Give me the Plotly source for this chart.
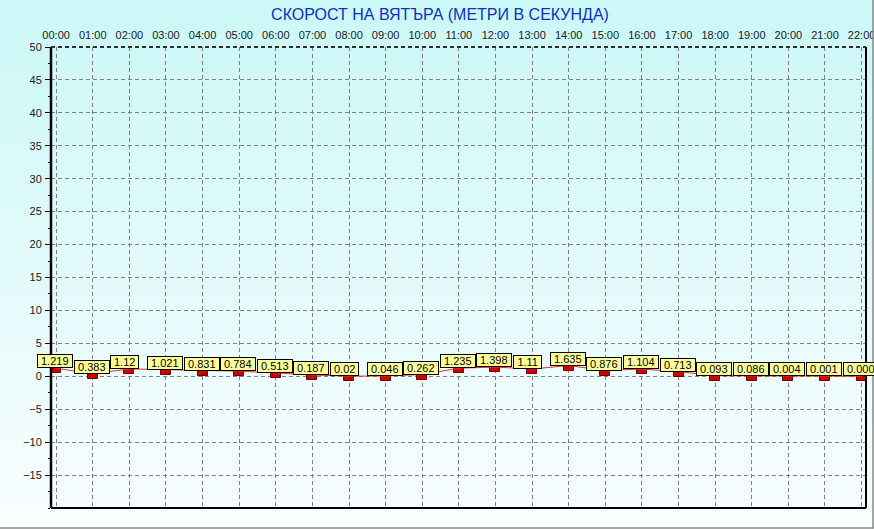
import plotly.graph_objects as go

# ---- data ----
hours = list(range(23))
hour_labels = [f"{h:02d}:00" for h in hours]
wind_speed = [1.219, 0.383, 1.12, 1.021, 0.831, 0.784, 0.513, 0.187, 0.02, 0.046,
              0.262, 1.235, 1.398, 1.11, 1.635, 0.876, 1.104, 0.713, 0.093, 0.086,
              0.004, 0.001, 0.000]
value_labels = ["1.219", "0.383", "1.12", "1.021", "0.831", "0.784", "0.513", "0.187",
                "0.02", "0.046", "0.262", "1.235", "1.398", "1.11", "1.635", "0.876",
                "1.104", "0.713", "0.093", "0.086", "0.004", "0.001", "0.000"]
y_ticks = [-15, -10, -5, 0, 5, 10, 15, 20, 25, 30, 35, 40, 45, 50]
title_text = "СКОРОСТ НА ВЯТЪРА (МЕТРИ В СЕКУНДА)"

FONT = "Arial, Liberation Sans, sans-serif"
W, H = 874, 529
ML, MR, MT, MB = 51, 8, 47, 21
PW, PH = W - ML - MR, H - MT - MB

Y_MIN, Y_MAX = -20, 50
X_MIN, X_MAX = -0.14, 22.12
unit_px = PH / (Y_MAX - Y_MIN)
hour_px = PW / (X_MAX - X_MIN)
mark_h = 5 / unit_px
mark_w = 10 / hour_px

fig = go.Figure()

# thin connecting line
fig.add_trace(go.Scatter(x=hours, y=wind_speed, mode="lines",
                         line=dict(color="#e03030", width=1),
                         hoverinfo="skip", showlegend=False))
# small rectangular markers hanging below each value
fig.add_trace(go.Bar(x=hours, y=[mark_h] * len(wind_speed),
                     base=[v - mark_h for v in wind_speed],
                     width=mark_w,
                     marker=dict(color="#cc0000", line=dict(color="#700000", width=1)),
                     hoverinfo="skip", showlegend=False))

# value labels
for h, v, t in zip(hours, wind_speed, value_labels):
    fig.add_annotation(x=h, y=v, text=t, showarrow=False,
                       xanchor="left", yanchor="bottom", xshift=-19, align="center",
                       font=dict(family=FONT, size=11, color="black"),
                       bgcolor="#ffff99", bordercolor="black", borderwidth=1,
                       borderpad=0, width=len(t) * 6.1 + 3, height=12)

# gradient background (bands)
shapes = []
n_bands = 60
for i in range(n_bands):
    p0 = H * i / n_bands
    p1 = H * (i + 1) / n_bands + 1
    f = i / (n_bands - 1)
    r = int(204 + (250 - 204) * f)
    g = int(248 + (254 - 248) * f)
    b = int(248 + (255 - 248) * f)
    shapes.append(dict(type="rect", xref="paper", yref="paper", layer="below",
                       x0=-ML / PW, x1=1 + MR / PW,
                       y0=(H - MB - p1) / PH, y1=(H - MB - p0) / PH,
                       line=dict(width=0), fillcolor=f"rgb({r},{g},{b})"))

# plot frame
shapes += [
    dict(type="line", xref="paper", yref="paper", x0=0, x1=0, y0=0, y1=1,
         line=dict(color="black", width=2.5)),
    dict(type="line", xref="paper", yref="paper", x0=0, x1=1, y0=0, y1=0,
         line=dict(color="black", width=2)),
    dict(type="line", xref="paper", yref="paper", x0=1, x1=1, y0=0, y1=1,
         line=dict(color="black", width=2)),
    dict(type="line", xref="paper", yref="paper", x0=0, x1=1, y0=1, y1=1,
         line=dict(color="#303030", width=2, dash="4px,3px")),
    # outer window edges
    dict(type="line", xref="paper", yref="paper",
         x0=-ML / PW, x1=1 + (MR - 0.5) / PW, y0=-(MB - 1) / PH, y1=-(MB - 1) / PH,
         line=dict(color="#888888", width=1.5)),
    dict(type="line", xref="paper", yref="paper",
         x0=1 + (MR - 1) / PW, x1=1 + (MR - 1) / PW, y0=-(MB - 0.5) / PH, y1=1 + MT / PH,
         line=dict(color="#888888", width=1.5)),
]

fig.update_layout(
    width=W, height=H,
    margin=dict(l=ML, r=MR, t=MT, b=MB, pad=0),
    paper_bgcolor="white",
    plot_bgcolor="rgba(0,0,0,0)",
    showlegend=False,
    bargap=0,
    shapes=shapes,
    title=dict(text=title_text, x=440 / W, xanchor="center", xref="container",
               y=1 - 14 / H, yanchor="middle",
               font=dict(family=FONT, size=16, color="#1030c0")),
    font=dict(family=FONT, size=11, color="#202020"),
)

fig.update_xaxes(
    side="top", range=[X_MIN, X_MAX],
    tickmode="array", tickvals=hours, ticktext=hour_labels,
    ticks="", ticklabelstandoff=5, ticklabeloverflow="allow",
    showgrid=True, gridcolor="#808080", gridwidth=1, griddash="4px,3px",
    showline=False, zeroline=False, automargin=False,
    tickfont=dict(family=FONT, size=11, color="#202020"),
)
fig.update_yaxes(
    range=[Y_MIN, Y_MAX],
    tickmode="array", tickvals=y_ticks,
    ticks="outside", ticklen=5, tickcolor="black", tickwidth=1,
    ticklabelstandoff=1,
    minor=dict(dtick=2.5, tick0=0, ticks="outside", ticklen=2, tickcolor="black",
               showgrid=False),
    showgrid=True, gridcolor="#808080", gridwidth=1, griddash="4px,3px",
    showline=False, zeroline=False, automargin=False,
    tickfont=dict(family=FONT, size=11, color="#202020"),
)

fig.write_html("out.html",
               config={"displayModeBar": False},
               post_script="document.body.style.margin='0px';document.body.style.overflow='hidden';")
